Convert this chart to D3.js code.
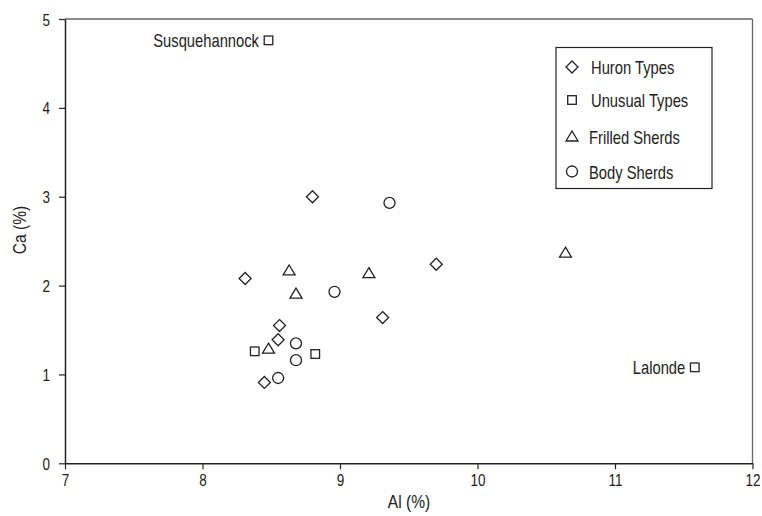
<!DOCTYPE html>
<html><head><meta charset="utf-8">
<script src="https://cdn.jsdelivr.net/npm/d3@7"></script>
<style>body{margin:0;background:#fff}svg{display:block}text{font-family:"Liberation Sans",Arial,sans-serif;fill:#222}</style>
</head><body><svg id="c" width="762" height="516"></svg>
<script>
const seriesNames = ["Huron Types","Unusual Types","Frilled Sherds","Body Sherds"];
const huronAl = [8.80,8.31,8.56,8.55,8.45,9.70,9.31];
const huronCa = [3.00,2.08,1.55,1.39,0.91,2.24,1.64];
const unusualAl = [8.48,8.38,8.82,11.58];
const unusualCa = [4.76,1.26,1.23,1.08];
const unusualLabels = ["Susquehannock","","","Lalonde"];
const frilledAl = [8.63,8.68,8.48,9.21,10.64];
const frilledCa = [2.17,1.91,1.29,2.14,2.37];
const bodyAl = [8.96,8.68,8.68,8.55,9.36];
const bodyCa = [1.93,1.35,1.16,0.96,2.93];
const xTicks = [7,8,9,10,11,12];
const yTicks = [0,1,2,3,4,5];

const svg = d3.select("#c");
const L=65,R=752.5,T=19,B=463.3;
const x = d3.scaleLinear().domain([7,12]).range([L,R]);
const y = d3.scaleLinear().domain([0,5]).range([B,T]);
const ink="#222";
const SX=0.82;

function txt(parent,px,py,str,size,anchor,rot){
  return parent.append("text")
    .attr("transform",`translate(${px},${py})${rot?` rotate(${rot})`:""} scale(${SX},1)`)
    .attr("text-anchor",anchor||"start").attr("font-size",size).text(str);
}

svg.append("line").attr("x1",L).attr("x2",R).attr("y1",T).attr("y2",T).attr("stroke","#666").attr("stroke-width",1.3);
svg.append("line").attr("x1",R).attr("x2",R).attr("y1",T).attr("y2",B).attr("stroke","#666").attr("stroke-width",1.3);

const xa = svg.append("g").attr("transform",`translate(0,${B})`)
  .call(d3.axisBottom(x).tickValues(xTicks).tickFormat(d3.format("d")).tickSize(6).tickSizeOuter(0));
const ya = svg.append("g").attr("transform",`translate(${L},0)`)
  .call(d3.axisLeft(y).tickValues(yTicks).tickFormat(d3.format("d")).tickSize(6).tickSizeOuter(0));
[xa,ya].forEach(a=>{
  a.select(".domain").attr("stroke",ink).attr("stroke-width",1.5);
  a.selectAll(".tick line").attr("stroke",ink).attr("stroke-width",1.2);
  a.selectAll(".tick text").attr("font-size",16.5).attr("fill",ink).style("font-family","Liberation Sans, Arial, sans-serif");
});
xa.selectAll(".tick text").attr("y",0).attr("dy",0).attr("transform",`translate(0,23) scale(${SX},1)`);
ya.selectAll(".tick text").attr("x",0).attr("dy",0).attr("transform",`translate(-15,6) scale(${SX},1)`);

txt(svg,409,508,"Al (%)",19,"middle");
txt(svg,26,230,"Ca (%)",19,"middle",-90);

function shape(g,type,cx,cy){
  const s={fill:"#fff",stroke:ink,"stroke-width":1.3};
  let el;
  if(type===0){ const r=6; el=g.append("path").attr("d",`M${cx},${cy-r}L${cx+r},${cy}L${cx},${cy+r}L${cx-r},${cy}Z`);}
  else if(type===1){ const h=4.3; el=g.append("rect").attr("x",cx-h).attr("y",cy-h).attr("width",2*h).attr("height",2*h);}
  else if(type===2){ el=g.append("path").attr("d",`M${cx},${cy-5.5}L${cx+6},${cy+4.5}L${cx-6},${cy+4.5}Z`);}
  else { el=g.append("circle").attr("cx",cx).attr("cy",cy).attr("r",5.5);}
  for(const k in s) el.attr(k,s[k]);
}
const g = svg.append("g");
const sets=[[huronAl,huronCa],[unusualAl,unusualCa],[frilledAl,frilledCa],[bodyAl,bodyCa]];
sets.forEach((s,t)=>{ s[0].forEach((v,i)=>shape(g,t,x(v),y(s[1][i]))); });
unusualAl.forEach((v,i)=>{ if(unusualLabels[i]) txt(g,x(v)-9.5,y(unusualCa[i])+6.5,unusualLabels[i],18,"end"); });

const lg = svg.append("g");
lg.append("rect").attr("x",556).attr("y",47.5).attr("width",156).attr("height",141).attr("fill","#fff").attr("stroke",ink).attr("stroke-width",1.2);
const rowsY=[67,100,136.5,171.5];
seriesNames.forEach((n,i)=>{
  shape(lg,i,572,rowsY[i]);
  txt(lg,i<2?591:589,rowsY[i]+7,n,18,"start");
});
</script></body></html>
